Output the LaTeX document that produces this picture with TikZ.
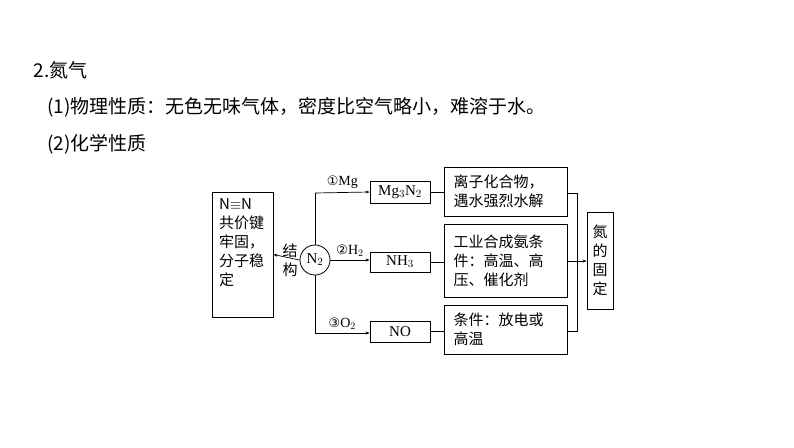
\documentclass[tikz,border=0pt]{standalone}
\usepackage{fontspec}
\setmainfont{Liberation Serif}
\newfontfamily\cjk{Noto Sans CJK SC}
\newfontfamily\dvs{DejaVu Sans}
\usetikzlibrary{arrows.meta}
\begin{document}
\begin{tikzpicture}[x=1pt,y=-1pt,
  bx/.style={draw,line width=0.8pt,inner sep=0pt},
  ln/.style={line width=0.7pt},
  ar/.style={ln,-{Stealth[length=4pt,width=3pt]}},
  tx/.style={font=\cjk\fontsize{15}{19}\selectfont,align=left},
  hd/.style={font=\cjk\fontsize{19}{22}\selectfont,anchor=west},
  lb/.style={midway,above,font=\fontsize{14}{14}\selectfont}]
\useasboundingbox (0,0) rectangle (794,447);
\node[hd] (h1) at (30,70) {2.氮气};
\node[hd] (h2) at (44,107) {(1)物理性质：无色无味气体，密度比空气略小，难溶于水。};
\node[hd] (h3) at (44,144) {(2)化学性质};
% boxes
\node[bx,minimum width=61pt,minimum height=125pt] (L) at (242.5,254.5) {};
\node[tx,anchor=north west,inner sep=0pt] (Lt) at (219,198) {N$\equiv$N\\共价键\\牢固，\\分子稳\\定};
\node[draw,circle,line width=0.8pt,minimum size=30pt,inner sep=0pt,font=\fontsize{15}{15}\selectfont] (N) at (315,260) {N$_2$};
\node[tx] (jg) at (290,260) {结\\构};
\node[bx,minimum width=60pt,minimum height=22pt,font=\fontsize{15}{15}\selectfont] (A) at (400,192) {Mg$_3$N$_2$};
\node[bx,minimum width=60pt,minimum height=20pt,font=\fontsize{15}{15}\selectfont] (B) at (400,262) {NH$_3$};
\node[bx,minimum width=60pt,minimum height=21pt,font=\fontsize{15}{15}\selectfont] (C) at (400,331.5) {NO};
\node[bx,minimum width=123pt,minimum height=49pt] (P) at (505.5,191.5) {};
\node[tx,anchor=west] at (450,191.5) {离子化合物，\\遇水强烈水解};
\node[bx,minimum width=123pt,minimum height=73pt] (Q) at (505.5,260.5) {};
\node[tx,anchor=west] at (450,260.5) {工业合成氨条\\件：高温、高\\压、催化剂};
\node[bx,minimum width=123pt,minimum height=49pt] (R) at (505.5,329.5) {};
\node[tx,anchor=west] at (450,329.5) {条件：放电或\\高温};
\node[bx,minimum width=26pt,minimum height=97pt] (F) at (600,260.5) {};
\node[tx,align=center] at (600,260.5) {氮\\的\\固\\定};
% connectors
\coordinate (top) at (315,193);
\coordinate (bot) at (315,333);
\draw[ar] (N.west) -- (L.east);
\draw[ln] (N.north) -- (top);
\draw[ln] (N.south) -- (bot);
\draw[ar] (top) -- (A.west) node[lb] {{\dvs\fontsize{13}{13}\selectfont ①}Mg};
\draw[ar] (N.east) -- (B.west |- N.east) node[lb] {{\dvs\fontsize{13}{13}\selectfont ②}H$_2$};
\draw[ar] (bot) -- (C.west |- bot) node[lb] {{\dvs\fontsize{13}{13}\selectfont ③}O$_2$};
\draw[ln] (A.east) -- (P.west |- A.east);
\draw[ln] (B.east) -- (Q.west |- B.east);
\draw[ln] (C.east) -- (R.west |- C.east);
\coordinate (v1) at (577,193);
\coordinate (v2) at (577,331);
\coordinate (vm) at (577,261);
\draw[ln] (P.east |- v1) -- (v1) -- (v2) -- (R.east |- v2);
\draw[ar] (Q.east |- vm) -- (F.west |- vm);
\end{tikzpicture}
\end{document}
